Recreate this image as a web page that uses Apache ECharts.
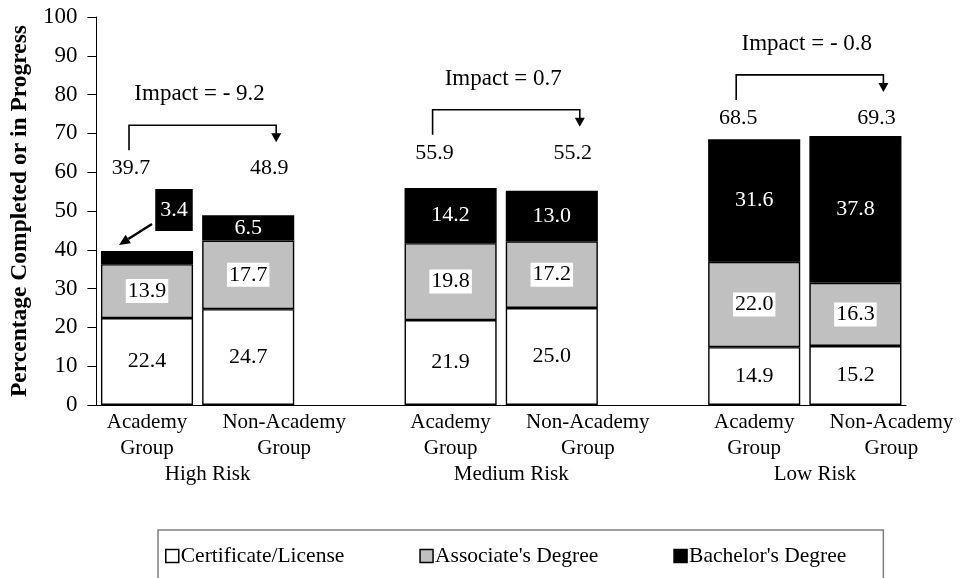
<!DOCTYPE html>
<html><head><meta charset="utf-8">
<script src="https://cdn.jsdelivr.net/npm/echarts@6/dist/echarts.min.js"></script>
<style>html,body{margin:0;padding:0;background:#fff}#c{width:961px;height:578px}</style>
</head><body><div id="c"></div>
<script>
// ---- data ----
const groups = ['High Risk', 'Medium Risk', 'Low Risk'];
const barNames = ['Academy Group', 'Non-Academy Group'];
const certificate = [22.4, 24.7, 21.9, 25.0, 14.9, 15.2];
const associate = [13.9, 17.7, 19.8, 17.2, 22.0, 16.3];
const bachelor = [3.4, 6.5, 14.2, 13.0, 31.6, 37.8];
const totals = [39.7, 48.9, 55.9, 55.2, 68.5, 69.3];
const impacts = ['- 9.2', '0.7', '- 0.8'];
const seriesNames = ['Certificate/License', "Associate's Degree", "Bachelor's Degree"];
const yMin = 0, yMax = 100, yStep = 10;

// ---- layout helpers ----
const FONT = "'Liberation Serif','Times New Roman',serif";
const cats = [], catIndex = [];
groups.forEach((g, gi) => {
  if (gi > 0) cats.push('gap' + gi);
  barNames.forEach(b => { catIndex.push(cats.length); cats.push(b); });
});
function spread(arr) {
  const out = cats.map(() => '-');
  arr.forEach((v, i) => { out[catIndex[i]] = v; });
  return out;
}
const fmt = p => (typeof p.value === 'number' ? p.value.toFixed(1) : '');

const chart = echarts.init(document.getElementById('c'), null, { renderer: 'canvas' });

const lightLabel = {
  show: true, position: 'inside', color: '#000', backgroundColor: '#fff',
  padding: [1, 2], fontSize: 22, fontFamily: FONT, formatter: fmt
};

const option = {
  animation: false,
  backgroundColor: '#fff',
  textStyle: { fontFamily: FONT, color: '#000' },
  grid: { left: 96, right: 55, top: 17, bottom: 173, containLabel: false },
  legend: {
    left: 158, top: 530,
    padding: [15, 37, 40, 7],
    borderColor: '#7f7f7f', borderWidth: 1.5,
    itemWidth: 13, itemHeight: 13, itemGap: 75,
    icon: 'rect',
    textStyle: { fontSize: 21.5, fontFamily: FONT, color: '#000', padding: [0, 0, 0, -3] },
    itemStyle: { borderColor: '#000', borderWidth: 1.5 },
    data: seriesNames
  },
  xAxis: {
    type: 'category', data: cats,
    axisLine: { show: true, lineStyle: { color: '#000', width: 1 } },
    axisTick: { show: false },
    axisLabel: {
      interval: 0, margin: 4, color: '#000', fontFamily: FONT, fontSize: 21,
      formatter: v => {
        if (v.indexOf('gap') === 0) return '';
        const parts = v.split(' ');
        const tag = v.indexOf('Non') === 0 ? 'n' : 'a';
        return parts.map(s => '{' + tag + '|' + s + '}').join('\n');
      },
      rich: {
        a: { fontSize: 21, lineHeight: 26, fontFamily: FONT, color: '#000' },
        n: { fontSize: 21, lineHeight: 26, fontFamily: FONT, color: '#000', padding: [0, 0, 0, 72] }
      }
    }
  },
  yAxis: {
    type: 'value', min: yMin, max: yMax, interval: yStep,
    name: 'Percentage Completed or in Progress',
    nameLocation: 'middle', nameGap: 62,
    nameTextStyle: { fontSize: 23.5, fontWeight: 'bold', fontFamily: FONT, color: '#000' },
    axisLine: { show: true, lineStyle: { color: '#000', width: 1 } },
    axisTick: { show: true, length: 9, lineStyle: { color: '#000' } },
    axisLabel: { color: '#000', fontSize: 23, fontFamily: FONT, margin: 19 },
    splitLine: { show: false }
  },
  series: [
    {
      name: seriesNames[0], type: 'bar', stack: 's', barCategoryGap: '9%',
      data: spread(certificate),
      itemStyle: { color: '#ffffff', borderColor: '#000', borderWidth: 1.4 },
      label: lightLabel
    },
    {
      name: seriesNames[1], type: 'bar', stack: 's', barCategoryGap: '9%',
      data: spread(associate),
      itemStyle: { color: '#c0c0c0', borderColor: '#000', borderWidth: 1.4 },
      label: lightLabel
    },
    {
      name: seriesNames[2], type: 'bar', stack: 's', barCategoryGap: '9%',
      data: spread(bachelor).map(v => (typeof v === 'number' && v < 5)
        ? { value: v, label: { position: 'top', distance: 5, offset: [27, -15], backgroundColor: '#000', padding: [10, 5] } }
        : v),
      itemStyle: { color: '#000000', borderColor: '#000', borderWidth: 1.4 },
      label: { show: true, position: 'inside', color: '#fff', fontSize: 22, fontFamily: FONT, formatter: fmt }
    }
  ]
};
chart.setOption(option);

// ---- annotations placed through the chart's own scales ----
const labelLevel = [61, 65, 74];          // value level of the total labels per group
function px(i, v) { return chart.convertToPixel({ gridIndex: 0 }, [i, v]); }
const els = [];
const txt = (x, y, text, size, extra) => ({
  type: 'text', x: x, y: y, silent: true,
  style: Object.assign({ text: text, fontSize: size, fontFamily: FONT, fill: '#000',
    align: 'center', verticalAlign: 'middle', textAlign: 'center', textVerticalAlign: 'middle' }, extra || {})
});
const line = (pts, w) => ({ type: 'polyline', silent: true, shape: { points: pts }, style: { stroke: '#000', lineWidth: w || 1.5, fill: null } });
const poly = pts => ({ type: 'polygon', silent: true, shape: { points: pts }, style: { fill: '#000' } });

groups.forEach((g, gi) => {
  const i1 = catIndex[gi * 2], i2 = catIndex[gi * 2 + 1];
  const p1 = px(i1, labelLevel[gi]), p2 = px(i2, labelLevel[gi]);
  const base = px(i1, 0);
  const yl = p1[1];
  // total labels
  els.push(txt(p1[0] - 16, yl, totals[gi * 2].toFixed(1), 22));
  els.push(txt(p2[0] + 21, yl, totals[gi * 2 + 1].toFixed(1), 22));
  // bracket
  const yb = yl - 43, xl = p1[0] - 18, xr = p2[0] + 28;
  els.push(line([[xl, yb + 25], [xl, yb], [xr, yb], [xr, yb + 10]], 1.6));
  els.push(poly([[xr - 5, yb + 8], [xr + 5, yb + 8], [xr, yb + 17]]));
  // impact text
  els.push(txt((xl + xr) / 2 - 3, yb - 31, 'Impact = ' + impacts[gi], 23));
  // group label
  els.push(txt((p1[0] + p2[0]) / 2 + 10, base[1] + 69, g, 21));
});

// arrow from the outside "small segment" label to its bar
bachelor.forEach((v, k) => {
  if (v < 5) {
    const top = px(catIndex[k], totals[k]);
    const sx = top[0] + 5, sy = top[1] - 27, ex = top[0] - 28, ey = top[1] - 6;
    const ang = Math.atan2(ey - sy, ex - sx);
    const L = 11, W = 5;
    const bx = ex - L * Math.cos(ang), by = ey - L * Math.sin(ang);
    els.push(line([[sx, sy], [bx, by]], 2.4));
    els.push(poly([[ex, ey], [bx + W * Math.sin(ang), by - W * Math.cos(ang)], [bx - W * Math.sin(ang), by + W * Math.cos(ang)]]));
  }
});

chart.setOption({ graphic: { elements: els } });
</script>
</body></html>
